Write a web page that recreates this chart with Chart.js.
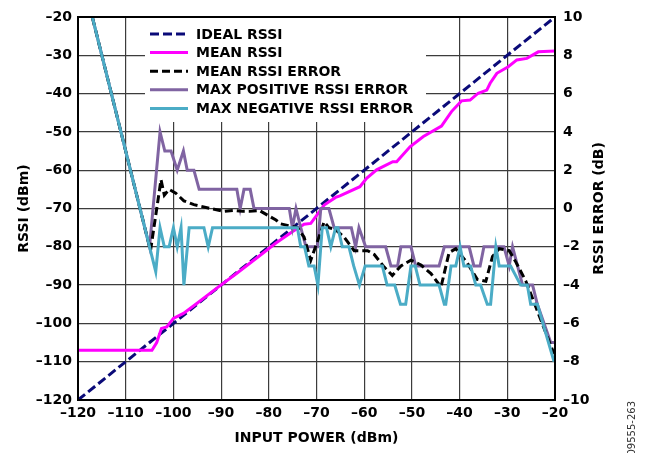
<!DOCTYPE html>
<html>
<head>
<meta charset="utf-8">
<script src="https://cdn.jsdelivr.net/npm/chart.js@4.4.1/dist/chart.umd.min.js"></script>
<style>
  html, body { margin: 0; padding: 0; background: #fff; }
  #wrap { width: 649px; height: 453px; }
</style>
</head>
<body>
<div id="wrap"><canvas id="myChart" width="649" height="453"></canvas></div>
<script>
// axis ranges / ticks
const xRange = [-120, -20];
const rssiRange = [-120, -20];
const errRange = [-10, 10];

const seriesNames = ['IDEAL RSSI', 'MEAN RSSI', 'MEAN RSSI ERROR', 'MAX POSITIVE RSSI ERROR', 'MAX NEGATIVE RSSI ERROR'];

// [input power dBm, rssi dBm]
const idealRssi = [[-120, -120], [-20, -20]];
const meanRssi = [
  [-120, -107], [-104.5, -107], [-103.5, -105], [-102.5, -101.3], [-101.4, -100.9], [-100, -98.7],
  [-97.9, -97.4], [-95.1, -94.8], [-90.9, -90.8], [-86.7, -86.9], [-82, -82.4], [-78.5, -79],
  [-75, -76], [-72.6, -74.1], [-71.2, -73.9], [-69.5, -71], [-68.4, -69.1], [-66, -67.1],
  [-65.1, -66.7], [-60.9, -64.3], [-59.5, -62.1], [-57.4, -59.9], [-54, -57.8], [-53.2, -57.8],
  [-50.4, -53.9], [-47.6, -51.2], [-43.8, -48.5], [-41.7, -44.7], [-39.6, -41.9], [-37.8, -41.7],
  [-36.1, -39.9], [-34.3, -39.1], [-33.6, -37.3], [-32.2, -34.7], [-29.8, -33], [-28, -31.2],
  [-25.9, -30.8], [-23.5, -29.1], [-20, -28.9]
];

// [input power dBm, error dB]
const meanErr = [
  [-120, 13], [-104.8, -2.2], [-102.6, 1.5], [-101.9, 0.7], [-100.9, 1.0], [-99.5, 0.8], [-97.8, 0.4],
  [-95.7, 0.2], [-92.2, 0], [-89.4, -0.15], [-87.3, -0.1], [-85.5, -0.15], [-84.1, -0.15], [-82, -0.1],
  [-78.5, -0.6], [-77.5, -0.8], [-74, -1], [-72.6, -1.5], [-71.2, -2.7], [-69.5, -1.5], [-68.4, -0.7],
  [-67.4, -1], [-66, -1.1], [-64.2, -1.5], [-62.1, -2.2], [-59.3, -2.2], [-57.9, -2.4], [-56, -3],
  [-54.1, -3.5], [-52.3, -3], [-50.2, -2.7], [-48.1, -2.95], [-46, -3.4], [-43.9, -4.1], [-42.2, -2.3],
  [-40.8, -2.1], [-38.5, -2.8], [-36.3, -3.7], [-34.5, -3.8], [-33.1, -2.5], [-31.7, -2.1], [-29.6, -2.2],
  [-28.2, -2.8], [-26.1, -3.8], [-24.4, -4.9], [-20.2, -7.6]
];
const maxPosErr = [
  [-120, 13], [-105, -2], [-102.8, 4], [-101.8, 3], [-100.5, 3], [-99.2, 2], [-97.9, 3], [-97.1, 2],
  [-95.7, 2], [-94.6, 1], [-86.7, 1], [-86, 0], [-85.2, 1], [-83.9, 1], [-83.1, 0], [-75.7, 0],
  [-75.05, -1], [-74.3, 0], [-73.3, -1], [-72.2, -2], [-69.8, -2], [-69.1, 0], [-67.4, 0], [-66.3, -1],
  [-62.7, -1], [-61.8, -2], [-61.1, -1], [-59.7, -2], [-55.5, -2], [-54.4, -3], [-53, -3], [-52.3, -2],
  [-50.2, -2], [-49.2, -3], [-44.3, -3], [-43.2, -2], [-38, -2], [-37, -3], [-35.7, -3], [-34.9, -2],
  [-30.7, -2], [-29.6, -3], [-28.9, -2], [-26.8, -4], [-24.7, -4], [-23.7, -5], [-20.9, -7], [-20, -7]
];
const maxNegErr = [
  [-120, 13], [-103.7, -3.3], [-102.8, -1], [-101.9, -2], [-100.9, -2], [-100, -1], [-99.2, -2],
  [-98.4, -1], [-97.8, -4], [-96.7, -1], [-93.6, -1], [-92.7, -2], [-91.8, -1], [-74, -1], [-73.3, -2],
  [-72.5, -2], [-71.6, -3], [-70.5, -3], [-69.7, -4], [-68.8, -1], [-67.9, -1], [-67, -2], [-66, -1],
  [-65.5, -1], [-64.6, -2], [-63.2, -2], [-62.2, -3], [-61, -4], [-59.8, -3], [-56.2, -3], [-55.2, -4],
  [-53.6, -4], [-52.4, -5], [-51.3, -5], [-50.2, -3], [-49.3, -3], [-48.3, -4], [-44.3, -4], [-43.2, -5],
  [-42.9, -5], [-41.8, -3], [-40.8, -3], [-39.9, -2], [-39.1, -3], [-37.7, -3], [-36.6, -4], [-35.6, -4],
  [-34.2, -5], [-33.5, -5], [-32.4, -2], [-31.7, -3], [-29.3, -3], [-27.2, -4], [-25.8, -4], [-25.1, -5],
  [-23.7, -5], [-20.2, -8]
];

const FONT = 'DejaVu Sans';
const colors = ['#0a0a78', '#ff00ff', '#000000', '#8064a2', '#4bacc6'];
const dashes = [[9, 4], [], [8, 4], [], []];

const toXY = arr => arr.map(p => ({ x: p[0], y: p[1] }));
const dash = s => String(s).replace('-', '\u2013');

// legend, frame, titles
const extras = {
  id: 'extras',
  beforeDatasetsDraw(chart) {
    const ctx = chart.ctx;
    ctx.save();
    ctx.fillStyle = '#fff';
    ctx.fillRect(145, 18, 281, 104);
    ctx.font = 'bold 14px ' + FONT;
    ctx.textBaseline = 'middle';
    ctx.textAlign = 'left';
    seriesNames.forEach((name, i) => {
      const y = 34 + i * 18.6;
      ctx.strokeStyle = colors[i];
      ctx.lineWidth = 3;
      ctx.setLineDash(dashes[i]);
      ctx.beginPath();
      ctx.moveTo(150, y);
      ctx.lineTo(188, y);
      ctx.stroke();
      ctx.setLineDash([]);
      ctx.fillStyle = '#000';
      ctx.fillText(name, 196, y + 1);
    });
    ctx.restore();
  },
  afterDatasetsDraw(chart) {
    const ctx = chart.ctx, a = chart.chartArea;
    ctx.save();
    ctx.strokeStyle = '#000';
    ctx.lineWidth = 2;
    ctx.strokeRect(a.left, a.top, a.right - a.left, a.bottom - a.top);
    ctx.restore();
  },
  afterDraw(chart) {
    const ctx = chart.ctx, a = chart.chartArea;
    const cy = (a.top + a.bottom) / 2;
    ctx.save();
    ctx.fillStyle = '#000';
    ctx.font = 'bold 14px ' + FONT;
    ctx.textAlign = 'center';
    ctx.textBaseline = 'middle';
    ctx.fillText('INPUT POWER (dBm)', (a.left + a.right) / 2, 438);
    ctx.save();
    ctx.translate(24, cy);
    ctx.rotate(-Math.PI / 2);
    ctx.fillText('RSSI (dBm)', 0, 0);
    ctx.restore();
    ctx.save();
    ctx.translate(599, cy);
    ctx.rotate(-Math.PI / 2);
    ctx.fillText('RSSI ERROR (dB)', 0, 0);
    ctx.restore();
    ctx.save();
    ctx.fillStyle = '#333';
    ctx.font = '10px ' + FONT;
    ctx.translate(632, 401);
    ctx.rotate(-Math.PI / 2);
    ctx.textAlign = 'right';
    ctx.fillText('09555-263', 0, 0);
    ctx.restore();
    ctx.restore();
  }
};

const gridStyle = { color: '#3c3c3c', lineWidth: 1.2, drawTicks: false };
const tickFont = { family: FONT, size: 14, weight: 'bold' };

const config = {
  type: 'line',
  data: {
    datasets: [
      { label: seriesNames[4], data: toXY(maxNegErr), yAxisID: 'y2', borderColor: colors[4], borderWidth: 3, order: 1 },
      { label: seriesNames[2], data: toXY(meanErr), yAxisID: 'y2', borderColor: colors[2], borderWidth: 3, borderDash: dashes[2], order: 2 },
      { label: seriesNames[3], data: toXY(maxPosErr), yAxisID: 'y2', borderColor: colors[3], borderWidth: 3, order: 3 },
      { label: seriesNames[1], data: toXY(meanRssi), yAxisID: 'y', borderColor: colors[1], borderWidth: 3, order: 4 },
      { label: seriesNames[0], data: toXY(idealRssi), yAxisID: 'y', borderColor: colors[0], borderWidth: 3, borderDash: dashes[0], order: 5 }
    ]
  },
  options: {
    responsive: false,
    animation: false,
    devicePixelRatio: 1,
    layout: { padding: { top: 17, left: 0, right: 0, bottom: 0 } },
    elements: { point: { radius: 0 }, line: { tension: 0, fill: false } },
    plugins: { legend: { display: false }, tooltip: { enabled: false } },
    scales: {
      x: {
        type: 'linear', min: xRange[0], max: xRange[1],
        grid: gridStyle, border: { display: false },
        ticks: { stepSize: 10, padding: 5, color: '#000', font: tickFont, maxRotation: 0, callback: dash },
        afterFit: s => { s.height = 53; }
      },
      y: {
        type: 'linear', position: 'left', min: rssiRange[0], max: rssiRange[1],
        grid: gridStyle, border: { display: false },
        ticks: { stepSize: 10, padding: 6, color: '#000', font: tickFont, callback: dash },
        afterFit: s => { s.width = 78; }
      },
      y2: {
        type: 'linear', position: 'right', min: errRange[0], max: errRange[1],
        grid: { display: false, drawTicks: false }, border: { display: false },
        ticks: { stepSize: 2, padding: 8, color: '#000', font: tickFont, callback: dash },
        afterFit: s => { s.width = 94; }
      }
    }
  },
  plugins: [extras]
};

const myChart = new Chart(document.getElementById('myChart'), config);
</script>
</body>
</html>
